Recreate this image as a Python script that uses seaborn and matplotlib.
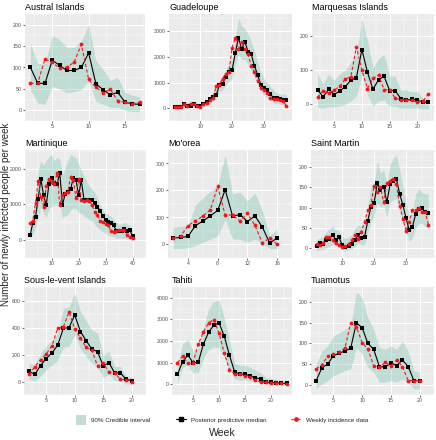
import matplotlib
matplotlib.use("Agg")
import matplotlib.pyplot as plt
from matplotlib.lines import Line2D
from matplotlib.patches import Patch
import seaborn as sns

# --- data (weekly cases) ---
austral_weeks = list(range(2, 18))
austral_median = [100, 63, 63, 117, 105, 93, 93, 100, 134, 62, 48, 36, 42, 19, 15, 14]
austral_obs = [63, 63, 120, 112, 98, 101, 112, 154, 72, 54, 41, 49, 22, 19, 15, 19]
austral_lo = [48, 17, 14, 56, 50, 41, 44, 48, 70, 21, 14, 7, 7, 0, -3, -3]
austral_hi = [156, 109, 109, 175, 165, 147, 147, 161, 200, 116, 95, 70, 77, 42, 35, 32]

guadeloupe_weeks = list(range(2, 38))
guadeloupe_median = [50, 60, 60, 150, 100, 100, 150, 80, 100, 150, 250, 350, 450, 500, 900, 950, 1200, 1400,
                     1500, 2150, 2750, 2300, 2600, 2200, 2100, 1650, 1300, 900, 800, 700, 550, 400, 380, 350, 300, 330]
guadeloupe_obs = [50, 50, 60, 150, 100, 180, 150, 100, 60, 150, 200, 300, 400, 850, 900, 1150, 1350, 1400,
                  2350, 2750, 2300, 2600, 2300, 2100, 1650, 1400, 1050, 800, 700, 600, 400, 350, 350, 300, 280, 80]
guadeloupe_lo = [0, 0, 0, 40, 20, 40, 50, 20, 0, 50, 100, 200, 300, 350, 650, 700, 900, 1050,
                 1150, 1700, 2100, 1900, 1900, 1700, 1500, 1200, 950, 650, 500, 400, 300, 200, 180, 150, 120, 100]
guadeloupe_hi = [150, 150, 160, 250, 220, 280, 250, 200, 180, 250, 350, 450, 600, 800, 1100, 1250, 1500, 1750,
                 2000, 2700, 3500, 3200, 3100, 2900, 2600, 2200, 1800, 1400, 1150, 1000, 850, 700, 600, 550, 550, 550]

marquesas_weeks = list(range(2, 23))
marquesas_median = [43, 21, 44, 28, 39, 51, 71, 78, 161, 94, 44, 72, 82, 40, 40, 16, 12, 14, 12, 5, 6]
marquesas_obs = [20, 40, 32, 41, 53, 74, 81, 169, 101, 46, 76, 86, 43, 41, 18, 12, 12, 12, 5, 9, 30]
marquesas_lo = [-9, -12, -7, -9, -6, 0, 9, 23, 83, 28, -5, 9, 12, -6, -6, -12, -12, -12, -12, -14, -14]
marquesas_hi = [88, 60, 89, 71, 89, 101, 124, 147, 253, 189, 106, 134, 147, 83, 83, 41, 41, 37, 37, 18, 18]

martinique_weeks = list(range(2, 41))
martinique_median = [140, 480, 650, 1160, 1710, 1250, 980, 1580, 1730, 1600, 1580, 1870, 980, 1290, 1340,
                     1420, 1730, 1690, 1270, 1670, 1120, 1130, 1130, 1120, 1050, 940, 810, 670, 560, 510,
                     470, 410, 260, 250, 260, 320, 260, 270, 120]
martinique_obs = [470, 540, 1050, 1650, 1200, 940, 1510, 1710, 1620, 1580, 1870, 980, 1270, 1320, 1350,
                  1760, 1690, 1190, 1710, 1120, 1090, 1120, 1090, 980, 790, 700, 540, 500, 450, 410,
                  260, 230, 250, 290, 290, 270, 140, 100, 70]
martinique_lo = [10, 190, 360, 630, 940, 760, 630, 890, 940, 980, 980, 1070, 630, 670, 720,
                 850, 890, 890, 760, 760, 670, 630, 580, 540, 450, 360, 290, 230, 190, 140,
                 120, 100, 50, 50, 50, 50, 30, 30, -30]
martinique_hi = [360, 760, 1250, 1960, 2220, 2090, 2220, 2350, 2400, 2220, 2310, 2270, 1820, 2040, 2220,
                 2400, 2350, 2310, 2130, 1960, 1780, 1650, 1510, 1420, 1340, 1160, 980, 850, 760, 720,
                 670, 580, 500, 450, 450, 500, 450, 410, 270]

moorea_weeks = list(range(2, 17))
moorea_median = [24, 26, 30, 70, 87, 106, 126, 203, 105, 111, 85, 106, 65, 5, 24]
moorea_obs = [24, 31, 70, 87, 106, 128, 215, 109, 109, 87, 115, 71, 6, 24, 0]
moorea_lo = [-15, -15, -12, -4, 8, 20, 32, 93, 20, 20, 8, 20, 2, -15, -15]
moorea_hi = [64, 67, 71, 146, 173, 197, 221, 331, 188, 194, 162, 191, 126, 32, 59]

stmartin_weeks = list(range(2, 38))
stmartin_median = [4, 12, 10, 20, 23, 32, 20, 26, 8, 3, 6, 10, 20, 32, 24, 26, 67, 101,
                   112, 160, 144, 152, 113, 158, 166, 170, 134, 107, 74, 44, 53, 83, 97, 99, 89, 87]
stmartin_obs = [10, 8, 12, 26, 28, 19, 12, 8, 3, 6, 10, 20, 31, 23, 40, 65, 93, 107,
                154, 138, 151, 113, 160, 166, 170, 158, 105, 73, 42, 65, 93, 93, 99, 89, 89, 58]
stmartin_lo = [-8, -4, -4, 0, 4, 8, 4, 4, -4, -8, -4, -2, 4, 12, 8, 8, 36, 65,
               77, 113, 101, 105, 77, 113, 121, 121, 89, 65, 40, 16, 24, 49, 61, 61, 53, 49]
stmartin_hi = [20, 26, 28, 40, 49, 55, 45, 42, 28, 23, 28, 32, 49, 57, 53, 57, 105, 154,
               162, 215, 186, 194, 162, 206, 223, 231, 194, 154, 113, 73, 89, 134, 146, 138, 134, 134]

slv_weeks = list(range(2, 21))
slv_median = [75, 52, 118, 170, 212, 268, 393, 400, 492, 370, 303, 240, 221, 115, 139, 64, 64, 16, 7]
slv_obs = [52, 110, 162, 205, 264, 393, 405, 515, 388, 322, 252, 233, 115, 139, 68, 64, 16, 12, 0]
slv_lo = [16, 5, 40, 87, 122, 158, 252, 264, 346, 240, 186, 134, 111, 28, 52, 5, 5, -19, -19]
slv_hi = [134, 122, 209, 264, 304, 358, 539, 553, 656, 522, 452, 381, 358, 193, 224, 111, 111, 40, 28]

tahiti_weeks = list(range(2, 24))
tahiti_median = [450, 1050, 1350, 1000, 1010, 1860, 2400, 2740, 2840, 2230, 1350, 580, 450, 470, 380,
                 300, 240, 80, 80, 70, 40, 40]
tahiti_obs = [990, 1300, 960, 1000, 1840, 2430, 2840, 2990, 2360, 1460, 680, 490, 470, 400, 320,
              200, 100, 80, 70, 50, 40, 30]
tahiti_lo = [50, 780, 920, 510, 540, 1190, 1600, 1730, 1660, 1260, 720, 240, 180, 200, 140,
             110, 80, 0, 0, -30, -30, -30]
tahiti_hi = [900, 1860, 2070, 1530, 1600, 2610, 3490, 3820, 3890, 3080, 2070, 990, 880, 890, 780,
             650, 540, 310, 270, 240, 180, 180]

tuamotus_weeks = list(range(2, 21))
tuamotus_median = [10, 41, 50, 70, 76, 82, 88, 150, 138, 100, 86, 44, 42, 53, 46, 60, 44, 10, 10]
tuamotus_obs = [38, 48, 69, 74, 80, 88, 150, 140, 102, 86, 46, 42, 54, 46, 60, 44, 10, 10, 10]
tuamotus_lo = [-10, 2, 10, 22, 28, 34, 38, 90, 74, 42, 30, 6, 6, 10, 6, 14, 6, -10, -10]
tuamotus_hi = [50, 82, 94, 118, 126, 134, 142, 225, 210, 162, 134, 90, 86, 94, 86, 106, 82, 34, 30]

# tick labels per panel
austral_xt, austral_yt = [5, 10, 15], [0, 50, 100, 150, 200]
guadeloupe_xt, guadeloupe_yt = [10, 20, 30], [0, 1000, 2000, 3000]
marquesas_xt, marquesas_yt = [5, 10, 15, 20], [0, 100, 200]
martinique_xt, martinique_yt = [10, 20, 30, 40], [0, 1000, 2000]
moorea_xt, moorea_yt = [4, 8, 12, 16], [0, 100, 200, 300]
stmartin_xt, stmartin_yt = [10, 20, 30], [0, 50, 100, 150, 200]
slv_xt, slv_yt = [5, 10, 15, 20], [0, 200, 400, 600]
tahiti_xt, tahiti_yt = [5, 10, 15, 20], [0, 1000, 2000, 3000, 4000]
tuamotus_xt, tuamotus_yt = [5, 10, 15, 20], [0, 50, 100, 150, 200]

panels = [
    ("Austral Islands", austral_weeks, austral_median, austral_obs, austral_lo, austral_hi, austral_xt, austral_yt),
    ("Guadeloupe", guadeloupe_weeks, guadeloupe_median, guadeloupe_obs, guadeloupe_lo, guadeloupe_hi, guadeloupe_xt, guadeloupe_yt),
    ("Marquesas Islands", marquesas_weeks, marquesas_median, marquesas_obs, marquesas_lo, marquesas_hi, marquesas_xt, marquesas_yt),
    ("Martinique", martinique_weeks, martinique_median, martinique_obs, martinique_lo, martinique_hi, martinique_xt, martinique_yt),
    ("Mo'orea", moorea_weeks, moorea_median, moorea_obs, moorea_lo, moorea_hi, moorea_xt, moorea_yt),
    ("Saint Martin", stmartin_weeks, stmartin_median, stmartin_obs, stmartin_lo, stmartin_hi, stmartin_xt, stmartin_yt),
    ("Sous-le-vent Islands", slv_weeks, slv_median, slv_obs, slv_lo, slv_hi, slv_xt, slv_yt),
    ("Tahiti", tahiti_weeks, tahiti_median, tahiti_obs, tahiti_lo, tahiti_hi, tahiti_xt, tahiti_yt),
    ("Tuamotus", tuamotus_weeks, tuamotus_median, tuamotus_obs, tuamotus_lo, tuamotus_hi, tuamotus_xt, tuamotus_yt),
]

# panel boxes in pixels (left, top, right, bottom)
boxes = [
    (25, 14, 145, 121), (169, 14, 292, 121), (312, 14, 434, 121),
    (25, 150, 146, 258), (168, 150, 292, 258), (311, 150, 434, 258),
    (24, 287, 146, 395), (172, 287, 292, 395), (311, 287, 434, 395),
]

sns.set_theme(style="darkgrid")
plt.rcParams["font.family"] = ["Liberation Sans", "DejaVu Sans"]

W, H = 436, 440
ribbon_col = "#62BCA2"
fig = plt.figure(figsize=(W / 100, H / 100), dpi=100)

for (name, wk, med, obs, lo, hi, xt, yt), (l, t, r, b) in zip(panels, boxes):
    ax = fig.add_axes([l / W, 1 - b / H, (r - l) / W, (b - t) / H])
    ax.set_facecolor("#EBEBEB")
    ax.fill_between(wk, lo, hi, color=ribbon_col, alpha=0.3, linewidth=0, zorder=2)
    sns.lineplot(x=wk, y=med, ax=ax, color="black", marker="s", markersize=2.5,
                 markeredgewidth=0, linewidth=0.8, zorder=3)
    sns.lineplot(x=wk, y=obs, ax=ax, color="#F8141A", marker="o", markersize=2.7,
                 markeredgewidth=0, linewidth=0.8, linestyle=(0, (3, 2)), zorder=4)
    ax.margins(x=0.05, y=0.05)
    ax.set_xticks(xt)
    ax.set_yticks(yt)
    ax.set_xticks([(a + c) / 2 for a, c in zip(xt[:-1], xt[1:])] + [xt[0] - (xt[1] - xt[0]) / 2, xt[-1] + (xt[1] - xt[0]) / 2], minor=True)
    ax.set_yticks([(a + c) / 2 for a, c in zip(yt[:-1], yt[1:])] + [yt[0] - (yt[1] - yt[0]) / 2, yt[-1] + (yt[1] - yt[0]) / 2], minor=True)
    ax.grid(which="major", color="white", linewidth=0.7)
    ax.grid(which="minor", color="white", linewidth=0.35)
    ax.set_axisbelow(True)
    ax.tick_params(which="major", labelsize=3.8, labelcolor="#4D4D4D", length=1.5, width=0.5,
                   color="#333333", pad=0.8, bottom=True, left=True)
    ax.tick_params(which="minor", length=0)
    ax.set_xlabel("")
    ax.set_ylabel("")
    for s in ax.spines.values():
        s.set_visible(False)
    ax.set_title(name, loc="left", fontsize=6.5, pad=3, color="black")

handles = [
    Patch(facecolor="#C3DDD5", edgecolor="none"),
    Line2D([], [], color="black", marker="s", markersize=2.4, linewidth=0.8),
    Line2D([], [], color="#F8141A", marker="o", markersize=2.4, linewidth=0.8, linestyle=(0, (2, 1))),
]
labels = ["90% Credible interval", "Posterior predictive median", "Weekly incidence data"]
fig.legend(handles, labels, loc="center", bbox_to_anchor=(0.51, 1 - 420 / H), ncol=3,
           frameon=False, fontsize=4.5, handlelength=1.6, handleheight=2.0, columnspacing=4,
           handletextpad=0.8)

fig.text(0.511, 1 - 433 / H, "Week", ha="center", va="center", fontsize=7.6)
fig.text(0.014, 1 - 214 / H, "Number of newly infected people per week", ha="center", va="center",
         rotation=90, fontsize=7.0)

fig.savefig("out.png", dpi=100)
